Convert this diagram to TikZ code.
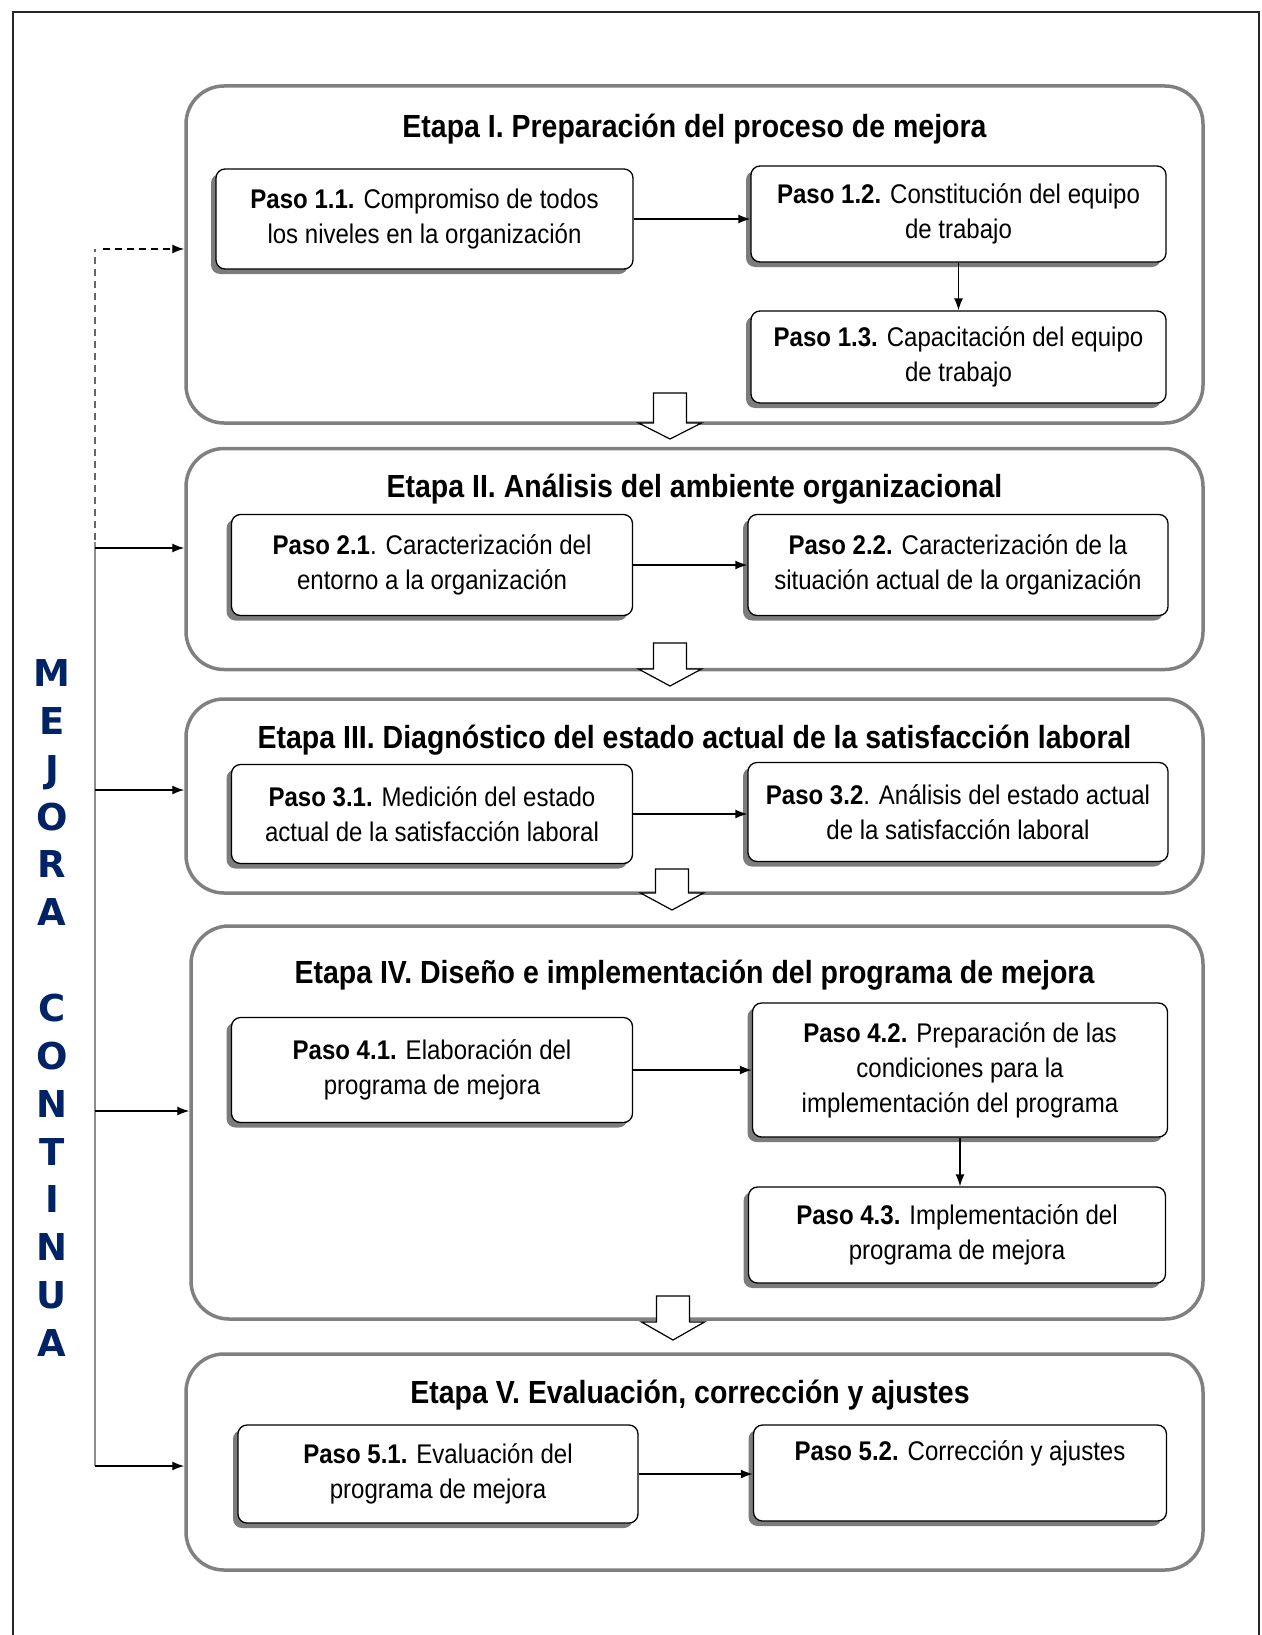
\documentclass[tikz,border=0pt]{standalone}
\usepackage{fontspec}
\setmainfont{Liberation Sans}[FakeStretch=0.89]
\newfontfamily\mejfont{DejaVu Sans}
\usetikzlibrary{shadows,arrows.meta}
\definecolor{navy}{RGB}{0,35,102}
\begin{document}
\begin{tikzpicture}[x=1pt,y=-1pt,
  stage/.style={draw=black!50, line width=3.5pt, rounded corners=38pt, fill=white},
  titlestyle/.style={font=\fontsize{32}{36}\selectfont\bfseries, inner sep=0pt},
  paso/.style={draw=black, line width=1.3pt, rounded corners=9pt, fill=white, align=center,
    font=\fontsize{27}{35}\selectfont, inner sep=4pt,
    drop shadow={shadow xshift=-5pt, shadow yshift=-5pt, fill=black!60, opacity=0.85}},
  arr/.style={line width=1.4pt, -{Latex[length=12pt,width=9pt]}},
  blockarr/.style={draw=black, line width=1.2pt, fill=white, line join=miter},
  vline/.style={draw=black!45, line width=1.6pt},
  dline/.style={draw=black!60, line width=1.4pt, dash pattern=on 7pt off 5pt},
  mej/.style={font=\mejfont\bfseries\fontsize{37}{37}\selectfont, text=navy, text height=27pt, text depth=0pt, inner sep=0pt}
]
\useasboundingbox (0,0) rectangle (1261,1635);
\fill[white] (0,0) rectangle (1261,1635);
% outer frame
\draw[line width=2pt, black!85] (12.5,1640) -- (12.5,12.5) -- (1259,12.5) -- (1259,1640);

% stages
\node[stage, minimum width=1017pt, minimum height=337pt] (s1) at (694.5,254.5) {};
\node[stage, minimum width=1017pt, minimum height=221pt] (s2) at (694.5,559) {};
\node[stage, minimum width=1017pt, minimum height=194pt] (s3) at (694.5,796) {};
\node[stage, minimum width=1012pt, minimum height=393pt] (s4) at (697,1122.5) {};
\node[stage, minimum width=1017pt, minimum height=216pt] (s5) at (694.5,1462) {};

\node[titlestyle] (t1) at (694.5,129) {Etapa I. Preparación del proceso de mejora};
\node[titlestyle] (t2) at (694.5,489) {Etapa II. Análisis del ambiente organizacional};
\node[titlestyle] (t3) at (694.5,740) {Etapa III. Diagnóstico del estado actual de la satisfacción laboral};
\node[titlestyle] (t4) at (694.5,975) {Etapa IV. Diseño e implementación del programa de mejora};
\node[titlestyle] (t5) at (690,1395) {Etapa V. Evaluación, corrección y ajustes};

% block arrows between stages
\newcommand\blockarrow[4]{%
  \draw[blockarr] (#1-16.5,#2) -- (#1+16.5,#2) -- (#1+16.5,#3) -- (#1+31.5,#3) -- (#1,#4)
    -- (#1-31.5,#3) -- (#1-16.5,#3) -- cycle;}
\blockarrow{670}{393}{423}{439}
\blockarrow{670}{643}{669}{686}
\blockarrow{672}{869}{893}{910}
\blockarrow{673}{1296}{1322}{1340}

% steps
\node[paso, minimum width=417pt, minimum height=100pt] (p11) at (424.5,219)
  {\textbf{Paso 1.1.} Compromiso de todos\\los niveles en la organización};
\node[paso, minimum width=415pt, minimum height=96pt] (p12) at (958.5,214)
  {\textbf{Paso 1.2.} Constitución del equipo\\de trabajo};
\node[paso, minimum width=415pt, minimum height=92pt] (p13) at (958.5,357)
  {\textbf{Paso 1.3.} Capacitación del equipo\\de trabajo};
\node[paso, minimum width=401pt, minimum height=101pt] (p21) at (432,565)
  {\textbf{Paso 2.1}. Caracterización del\\entorno a la organización};
\node[paso, minimum width=420pt, minimum height=101pt] (p22) at (958,565)
  {\textbf{Paso 2.2.} Caracterización de la\\situación actual de la organización};
\node[paso, minimum width=401pt, minimum height=99pt] (p31) at (432,814)
  {\textbf{Paso 3.1.} Medición del estado\\actual de la satisfacción laboral};
\node[paso, minimum width=420pt, minimum height=99pt] (p32) at (958,812)
  {\textbf{Paso 3.2}. Análisis del estado actual\\de la satisfacción laboral};
\node[paso, minimum width=401pt, minimum height=105pt] (p41) at (432,1070)
  {\textbf{Paso 4.1.} Elaboración del\\programa de mejora};
\node[paso, minimum width=415pt, minimum height=134pt] (p42) at (960,1070)
  {\textbf{Paso 4.2.} Preparación de las\\condiciones para la\\implementación del programa};
\node[paso, minimum width=417pt, minimum height=96pt] (p43) at (957,1235)
  {\textbf{Paso 4.3.} Implementación del\\programa de mejora};
\node[paso, minimum width=400pt, minimum height=98pt] (p51) at (438,1474)
  {\textbf{Paso 5.1.} Evaluación del\\programa de mejora};
\node[paso, minimum width=413pt, minimum height=96pt] (p52) at (960,1473)
  {\textbf{Paso 5.2.} Corrección y ajustes\\\strut};

% step connectors
\draw[arr] (p11.east) -- (p11.east -| p12.west);
\draw[arr] (p12.south) -- (p12.south |- p13.north);
\draw[arr] (p21.east) -- (p21.east -| p22.west);
\draw[arr] (p31.east) -- (p31.east -| p32.west);
\draw[arr] (p41.east) -- (p41.east -| p42.west);
\draw[arr] (p42.south) -- (p42.south |- p43.north);
\draw[arr] (p51.east) -- (p51.east -| p52.west);

% continuous improvement loop
\coordinate (vd) at (95,540);
\coordinate (vt) at (95,249);
\coordinate (v2) at (95,548);
\coordinate (v3) at (95,790);
\coordinate (v4) at (95,1111);
\coordinate (v5) at (95,1466);
\draw[dline] (vd) -- (vt);
\draw[dline, draw=black, -{Latex[length=12pt,width=9pt]}] (103,249) -- (s1.west |- vt);
\draw[vline] (95,542) -- (v5);
\draw[arr] (v2) -- (s2.west |- v2);
\draw[arr] (v3) -- (s3.west |- v3);
\draw[arr] (v4) -- (s4.west |- v4);
\draw[arr] (v5) -- (s5.west |- v5);

% MEJORA CONTINUA
\foreach \l [count=\i from 0] in {M,E,J,O,R,A}
  \node[mej] (ma\i) at (52,673+\i*47.85) {\l};
\foreach \l [count=\i from 7] in {C,O,N,T,I,N,U,A}
  \node[mej] (mb\i) at (52,673+\i*47.85) {\l};
\end{tikzpicture}
\end{document}
